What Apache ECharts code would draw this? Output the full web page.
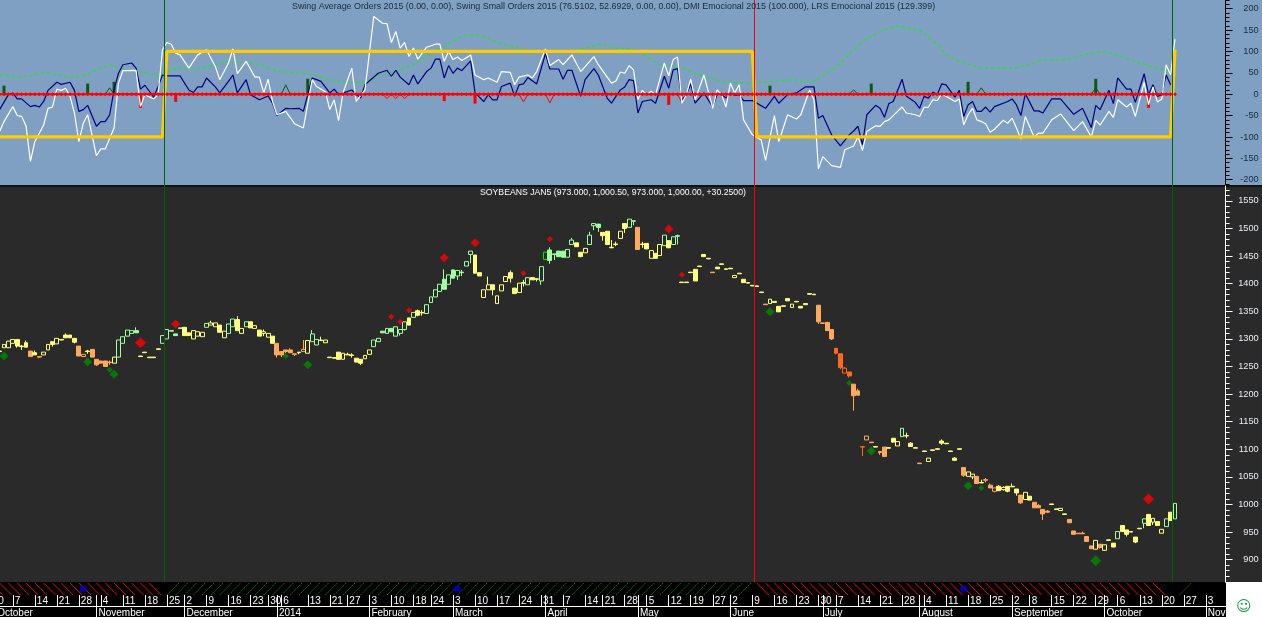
<!DOCTYPE html>
<html><head><meta charset="utf-8"><style>html,body{margin:0;padding:0;background:#fff}#c{width:1262px;height:617px}</style>
<script src="https://cdn.jsdelivr.net/npm/echarts@6/dist/echarts.min.js"></script></head><body><div id="c"></div>
<script>
const indicatorTitle = "Swing Average Orders 2015 (0.00, 0.00), Swing Small Orders 2015 (76.5102, 52.6929, 0.00, 0.00), DMI Emocional 2015 (100.000), LRS Emocional 2015 (129.399)";
const priceTitle = "SOYBEANS JAN5 (973.000, 1,000.50, 973.000, 1,000.00, +30.2500)";
// bars: [bodyBottom, bodyTop, low, high, kind]  y/g/o/r filled yellow/green/orange/dark; upper-case hollow; b bright green hollow
const bars = [
[1277,1278,1277,1278,'y'],[1284,1290,1284,1290,'Y'],[1284,1296,1284,1296,'Y'],[1292,1299,1292,1299,'Y'],[1287,1299,1284,1299,'y'],[1286,1287,1280,1289,'y'],[1285,1293,1285,1297,'y'],[1268,1278,1268,1278,'o'],[1271,1275,1271,1279,'y'],[1267,1268,1265,1268,'o'],
[1271,1276,1271,1276,'Y'],[1280,1290,1280,1290,'Y'],[1290,1295,1286,1295,'y'],[1291,1301,1291,1301,'Y'],[1298,1299,1298,1299,'y'],[1302,1307,1302,1310,'y'],[1302,1307,1302,1307,'y'],[1294,1301,1292,1301,'y'],[1269,1287,1269,1287,'o'],[1268,1272,1268,1272,'O'],
[1277,1278,1273,1280,'y'],[1267,1281,1267,1281,'o'],[1253,1263,1251,1263,'o'],[1256,1260,1256,1260,'o'],[1250,1260,1250,1260,'o'],[1257,1258,1253,1261,'o'],[1256,1267,1256,1267,'Y'],[1267,1298,1267,1298,'G'],[1292,1304,1292,1304,'G'],[1305,1316,1305,1316,'G'],
[1310,1315,1310,1315,'G'],[1311,1315,1311,1321,'g'],[1268,1269,1268,1269,'y'],[1275,1276,1275,1276,'y'],[1266,1267,1266,1267,'y'],[1266,1267,1266,1267,'y'],[1281,1282,1281,1282,'y'],[1292,1306,1292,1306,'G'],[1300,1317,1300,1317,'G'],[1314,1315,1314,1315,'g'],
[1306,1309,1306,1309,'g'],[1319,1320,1319,1320,'g'],[1306,1321,1306,1321,'y'],[1306,1311,1306,1311,'y'],[1300,1315,1300,1315,'Y'],[1305,1313,1305,1313,'Y'],[1304,1312,1304,1312,'Y'],[1321,1328,1321,1328,'G'],[1325,1329,1325,1333,'Y'],[1322,1329,1322,1329,'Y'],
[1312,1325,1312,1325,'y'],[1302,1314,1302,1314,'Y'],[1310,1327,1310,1327,'G'],[1322,1336,1322,1336,'G'],[1315,1335,1315,1341,'y'],[1310,1319,1310,1319,'Y'],[1322,1331,1322,1331,'G'],[1320,1331,1320,1331,'y'],[1319,1324,1319,1324,'Y'],[1305,1316,1305,1316,'y'],
[1310,1313,1305,1317,'Y'],[1303,1310,1303,1310,'Y'],[1292,1305,1292,1305,'y'],[1271,1292,1266,1292,'o'],[1271,1277,1267,1277,'o'],[1277,1280,1274,1280,'o'],[1275,1280,1275,1283,'o'],[1272,1273,1269,1273,'o'],[1275,1276,1272,1276,'y'],[1277,1281,1277,1298,'O'],
[1274,1297,1274,1297,'Y'],[1295,1309,1295,1316,'G'],[1289,1299,1289,1299,'G'],[1297,1298,1297,1304,'y'],[1293,1298,1293,1298,'Y'],[1266,1267,1266,1267,'y'],[1265,1266,1265,1266,'y'],[1263,1276,1263,1276,'y'],[1263,1274,1263,1274,'Y'],[1271,1272,1271,1275,'y'],
[1270,1271,1266,1274,'y'],[1258,1265,1258,1265,'y'],[1256,1263,1253,1263,'y'],[1264,1270,1264,1270,'Y'],[1272,1280,1272,1280,'Y'],[1286,1298,1286,1298,'G'],[1295,1301,1295,1301,'G'],[1311,1314,1311,1314,'g'],[1310,1319,1310,1319,'G'],[1313,1319,1313,1319,'g'],
[1305,1322,1305,1322,'G'],[1310,1317,1306,1317,'G'],[1317,1331,1315,1331,'G'],[1325,1338,1325,1338,'y'],[1339,1348,1339,1348,'G'],[1343,1351,1341,1353,'y'],[1347,1348,1342,1352,'y'],[1346,1362,1346,1362,'G'],[1366,1376,1366,1376,'G'],[1376,1389,1376,1389,'G'],
[1386,1399,1386,1399,'G'],[1390,1408,1389,1426,'g'],[1399,1416,1399,1416,'G'],[1410,1425,1410,1425,'g'],[1414,1424,1407,1424,'G'],[1420,1421,1414,1425,'g'],[1432,1440,1432,1440,'G'],[1453,1459,1437,1459,'G'],[1419,1452,1419,1452,'y'],[1414,1420,1414,1420,'y'],
[1375,1389,1375,1389,'Y'],[1389,1398,1389,1413,'Y'],[1389,1398,1379,1398,'y'],[1364,1378,1364,1378,'Y'],[1387,1398,1387,1398,'Y'],[1404,1413,1404,1413,'Y'],[1410,1420,1402,1424,'y'],[1382,1392,1382,1392,'y'],[1384,1401,1384,1401,'Y'],[1401,1402,1395,1407,'y'],
[1398,1411,1398,1411,'G'],[1407,1411,1407,1411,'y'],[1408,1409,1404,1409,'y'],[1405,1431,1398,1431,'G'],[1444,1457,1444,1457,'b'],[1442,1461,1436,1466,'g'],[1453,1454,1443,1454,'g'],[1449,1459,1449,1459,'g'],[1448,1459,1448,1459,'g'],[1448,1462,1448,1462,'G'],
[1471,1479,1471,1483,'G'],[1467,1474,1467,1474,'y'],[1449,1457,1449,1457,'y'],[1456,1464,1456,1464,'Y'],[1471,1488,1471,1494,'G'],[1505,1509,1497,1509,'G'],[1502,1508,1494,1508,'g'],[1487,1493,1478,1493,'y'],[1471,1495,1471,1495,'y'],[1465,1466,1465,1479,'y'],
[1471,1472,1468,1476,'y'],[1482,1495,1482,1495,'Y'],[1500,1509,1492,1509,'y'],[1502,1517,1502,1517,'G'],[1513,1514,1506,1514,'G'],[1462,1502,1462,1502,'o'],[1471,1472,1465,1476,'y'],[1463,1473,1463,1473,'y'],[1446,1460,1446,1460,'Y'],[1446,1455,1446,1455,'y'],
[1451,1471,1451,1471,'Y'],[1469,1488,1469,1488,'G'],[1465,1478,1465,1478,'y'],[1471,1485,1471,1485,'G'],[1486,1487,1471,1489,'g'],[1402,1403,1402,1403,'y'],[1402,1403,1402,1403,'y'],[1420,1421,1420,1421,'y'],[1405,1426,1405,1426,'y'],[1431,1432,1431,1432,'y'],
[1449,1453,1449,1453,'y'],[1445,1446,1445,1446,'y'],[1420,1421,1420,1421,'o'],[1427,1430,1427,1430,'y'],[1435,1436,1435,1436,'y'],[1426,1427,1426,1427,'y'],[1427,1428,1427,1428,'y'],[1411,1415,1411,1415,'Y'],[1418,1419,1418,1419,'y'],[1402,1408,1402,1408,'y'],
[1401,1402,1401,1402,'y'],[1396,1397,1396,1397,'y'],[1395,1396,1395,1396,'y'],[1384,1385,1384,1385,'y'],[1362,1363,1362,1363,'o'],[1364,1372,1364,1372,'Y'],[1366,1368,1366,1368,'y'],[1349,1359,1349,1359,'y'],[1359,1360,1359,1360,'y'],[1369,1373,1369,1373,'y'],
[1357,1363,1357,1363,'Y'],[1367,1368,1367,1368,'y'],[1356,1359,1356,1359,'y'],[1362,1364,1362,1364,'y'],[1381,1382,1381,1382,'y'],[1380,1381,1380,1381,'y'],[1331,1361,1327,1361,'o'],[1328,1329,1328,1329,'o'],[1315,1330,1315,1330,'o'],[1300,1317,1298,1317,'o'],
[1274,1283,1272,1283,'r'],[1248,1273,1245,1273,'r'],[1238,1247,1238,1249,'R'],[1233,1240,1230,1240,'r'],[1197,1218,1170,1218,'o'],[1198,1206,1198,1210,'o'],[1104,1105,1088,1105,'r'],[1117,1124,1117,1124,'O'],[1112,1113,1112,1113,'o'],[1104,1105,1104,1105,'y'],
[1094,1096,1090,1096,'o'],[1087,1104,1087,1104,'o'],[1102,1103,1102,1103,'y'],[1113,1120,1112,1120,'y'],[1106,1114,1106,1114,'Y'],[1123,1138,1123,1138,'G'],[1124,1125,1120,1130,'y'],[1105,1111,1105,1113,'y'],[1102,1103,1102,1103,'y'],[1074,1075,1074,1075,'o'],
[1096,1097,1096,1097,'y'],[1078,1084,1078,1084,'Y'],[1098,1099,1098,1099,'y'],[1100,1101,1100,1101,'y'],[1111,1115,1108,1118,'y'],[1110,1111,1110,1111,'y'],[1096,1097,1096,1097,'y'],[1080,1084,1080,1086,'y'],[1100,1101,1100,1101,'y'],[1053,1067,1050,1067,'o'],
[1051,1059,1051,1059,'Y'],[1050,1055,1046,1055,'Y'],[1038,1051,1038,1051,'o'],[1039,1040,1039,1045,'y'],[1044,1045,1040,1048,'o'],[1030,1035,1030,1038,'o'],[1024,1030,1022,1030,'O'],[1025,1033,1025,1035,'y'],[1027,1031,1025,1033,'Y'],[1024,1033,1022,1033,'y'],
[1032,1033,1032,1038,'y'],[1021,1028,1016,1028,'y'],[1003,1017,1001,1017,'o'],[1009,1022,1009,1022,'Y'],[1008,1015,1008,1015,'y'],[994,1004,994,1004,'o'],[994,998,994,1001,'o'],[983,991,972,991,'o'],[986,988,985,990,'o'],[1000,1001,1000,1001,'y'],
[991,992,991,992,'y'],[989,993,989,993,'Y'],[982,983,982,983,'y'],[967,973,967,973,'o'],[946,952,946,952,'o'],[947,948,947,948,'o'],[947,948,947,951,'o'],[933,942,933,942,'o'],[920,925,920,925,'o'],[919,935,919,935,'Y'],
[922,928,920,928,'o'],[917,927,916,927,'Y'],[935,936,935,936,'y'],[923,930,923,930,'y'],[938,951,938,951,'G'],[951,962,951,962,'y'],[946,954,942,954,'y'],[950,951,950,951,'y'],[932,941,930,941,'y'],[956,957,956,957,'y'],
[966,974,957,974,'G'],[962,982,962,982,'y'],[968,975,963,975,'Y'],[962,969,962,969,'y'],[948,955,948,955,'Y'],[960,974,960,974,'G'],[971,986,971,986,'y'],[974,1002,974,1002,'G']
];
const redBig=[[32,1293],[261,1010]], redMid=[[40,1327],[101,1447],[108,1474],[152,1499]], redSmall=[[89,1340],[91,1331],[93,1352],[119,1419],[125,1481],[155,1416]];
const greenBig=[[249,898]], greenMid=[[1,1269],[20,1258],[26,1236],[70,1253],[175,1349],[198,1097],[220,1034]], greenSmall=[[25,1244],[65,1269],[193,1220],[223,1030]];
const blueLine=[[0,-36],[2,-1],[3,3],[4,-11],[5,-11],[7,-29],[8,-26],[9,-30],[10,-17],[11,9],[13,28],[14,23],[16,28],[17,9],[18,-40],[19,-36],[20,-26],[22,-75],[23,-64],[24,-64],[25,-48],[26,10],[27,49],[28,69],[30,73],[31,61],[32,12],[33,21],[35,-7],[36,18],[37,45],[38,43],[41,43],[43,10],[44,4],[45,17],[46,17],[47,38],[49,17],[50,3],[52,30],[53,45],[54,3],[56,34],[57,-1],[59,-13],[61,-4],[62,-21],[63,-50],[65,-33],[66,-34],[68,-33],[69,-40],[71,38],[72,34],[73,30],[75,3],[76,12],[77,-1],[80,10],[82,-9],[83,22],[86,49],[88,56],[89,42],[90,56],[91,40],[93,22],[94,45],[95,24],
[97,53],[98,61],[99,82],[100,82],[101,38],[102,67],[103,49],[104,61],[105,55],[107,78],[108,3],[110,-17],[111,-1],[112,-13],[113,-13],[114,18],[116,26],[117,-5],[118,22],[119,24],[120,39],[122,24],[124,95],[125,59],[127,59],[128,35],[129,56],[130,56],[132,-5],[133,34],[135,60],[136,45],[138,-9],[139,-21],[141,10],[142,17],[143,34],[144,32],[145,-44],[146,-17],[148,-13],[149,-21],[151,42],[152,14],[153,57],[154,60],[155,-13],[156,-1],[157,24],[158,-21],[160,3],[162,-30],[163,0],[164,-1],[165,-9],[166,3],[167,-3],[168,-1],[169,-15],[171,-15],[174,-33],[176,-5],[177,-21],[179,-1],[181,3],[183,17],[185,17],[186,-56],[187,-50],[189,-95],[191,-121],
[193,-95],[194,-86],[195,-75],[196,-118],[197,-48],[199,-26],[200,-33],[201,-54],[202,-22],[203,-17],[205,35],[206,-5],[208,-19],[209,-33],[210,-5],[211,-9],[212,5],[213,-1],[214,24],[215,22],[217,-7],[218,9],[219,-52],[220,-25],[221,-17],[222,-40],[223,-40],[224,-30],[225,-42],[226,-29],[229,-17],[230,-11],[231,-25],[232,-50],[233,1],[235,-39],[236,-39],[237,-44],[239,-11],[241,-11],[244,-47],[246,-33],[248,-78],[249,-26],[250,-36],[252,9],[253,-22],[254,38],[256,12],[257,12],[258,-19],[260,48],[261,-1],[262,22],[263,-5],[264,-1],[265,45],[266,22]];
const whiteLine=[[0,-87],[1,-64],[3,-29],[4,-50],[5,-52],[6,-74],[7,-157],[8,-111],[10,-72],[11,-33],[12,-30],[13,12],[14,9],[15,14],[16,-5],[17,-44],[18,-111],[19,-68],[20,-48],[22,-144],[23,-128],[24,-128],[26,-79],[27,26],[28,55],[31,56],[32,-29],[33,-1],[35,-11],[36,-1],[37,104],[38,121],[39,117],[40,96],[41,92],[43,61],[44,77],[45,92],[47,104],[49,65],[50,34],[52,73],[53,106],[54,48],[56,77],[58,40],[59,40],[60,3],[61,35],[62,-17],[63,-48],[65,-40],[67,-69],[69,-79],[71,34],[72,18],[74,6],[75,-36],[76,-13],[77,-62],[78,3],[80,61],[81,-17],[83,10],[85,182],[87,166],[88,165],[89,121],[90,147],[91,108],[92,121],[93,88],[94,108],[95,82],
[97,110],[99,117],[100,117],[101,77],[102,100],[103,81],[104,87],[105,79],[107,92],[108,45],[110,34],[111,38],[113,28],[114,53],[116,51],[117,22],[118,40],[120,45],[121,38],[122,53],[124,106],[125,67],[127,81],[128,69],[130,92],[132,53],[135,88],[136,69],[139,26],[140,31],[141,52],[142,49],[143,67],[144,57],[145,-13],[146,9],[147,-1],[148,7],[149,-1],[151,73],[152,43],[153,81],[154,87],[155,-21],[156,-1],[157,36],[158,-13],[160,45],[162,-33],[163,10],[164,-1],[165,-30],[166,26],[167,3],[168,22],[169,-60],[171,-95],[173,-107],[174,-155],[176,-50],[177,-111],[179,-48],[181,-58],[182,-48],[184,10],[185,-13],[186,-175],[187,-146],[189,-167],[191,-171],
[192,-130],[194,-121],[195,-99],[196,-132],[197,-87],[199,-74],[200,-75],[201,-64],[202,-60],[203,-50],[205,-30],[206,-44],[208,-48],[209,-52],[210,-31],[211,-30],[212,-13],[213,-15],[214,1],[215,-5],[217,-17],[218,-11],[219,-72],[220,-48],[221,-33],[222,-60],[223,-64],[224,-69],[225,-89],[226,-82],[228,-61],[229,-68],[230,-56],[231,-79],[232,-105],[233,-52],[235,-100],[236,-91],[237,-91],[239,-60],[241,-46],[244,-85],[246,-64],[248,-100],[249,-61],[250,-72],[252,-40],[253,-54],[254,-13],[256,-30],[257,-21],[258,-52],[260,28],[261,-25],[262,17],[263,-18],[264,-11],[265,69],[266,45],[267,129]];
const greenLine=[[0,46],[4,40],[7,43],[10,52],[13,46],[16,38],[20,46],[22,57],[25,69],[29,57],[32,53],[36,43],[38,53],[41,61],[45,60],[49,69],[52,77],[57,74],[60,67],[63,53],[67,51],[71,46],[75,34],[79,28],[83,28],[87,46],[92,61],[95,74],[98,96],[101,112],[105,135],[108,141],[111,131],[114,118],[118,108],[121,96],[124,100],[129,98],[133,108],[137,118],[140,108],[144,106],[147,88],[150,69],[155,61],[159,46],[164,30],[170,26],[176,30],[180,34],[185,30],[188,49],[191,73],[194,104],[197,131],[201,151],[204,160],[209,149],[212,127],[215,92],[218,77],[223,61],[230,61],[234,69],[237,81],[242,81],[246,92],[251,100],[255,88],[259,73],[263,61],[266,53]];
const yellowLine=[[0,-100],[37,-100],[38,100],[171,100],[172,-100],[266,-100],[267,104]];
const histGreen=[[1,20],[20,25],[26,29],[70,36],[175,20],[198,25],[220,29],[249,36]];
const histRed=[[32,-32],[40,-18],[101,-16],[108,-22],[152,-25],[261,-32]];
const thinGreen=[[25,15],[65,22],[194,10],[223,15],[249,15]];
const thinRed=[[88,-10],[90,-10],[92,-10],[119,-18],[125,-20],[155,-20]];
const signalBars=[[37.35,'buy'],[171.4,'sell'],[266.3,'buy']];
const hatchZones=[[-2,37.35,'sell'],[37.35,171.4,'buy'],[171.4,266.3,'sell'],[266.3,270,'buy']];
const newsBars=[19,104,219];
const weekTicks=[[-2,'30'],[3,'7'],[8,'14'],[13,'21'],[18,'28'],[22,''],[23,'4'],[28,'11'],[33,'18'],[38,'25'],[42,'2'],[47,'9'],[52,'16'],[57,'23'],[61,'30'],[63,''],[64,'6'],[70,'13'],[75,'21'],[79,'27'],[84,'3'],[89,'10'],[94,'18'],[98,'24'],[103,'3'],[108,'10'],[113,'17'],[118,'24'],[123,'31'],[124,''],[128,'7'],[133,'14'],[137,'21'],[142,'28'],[145,''],[147,'5'],[152,'12'],[157,'19'],[162,'27'],[166,'2'],[171,'9'],[176,'16'],[181,'23'],[186,'30'],[187,''],[190,'7'],[195,'14'],[200,'21'],[205,'28'],[209,''],[210,'4'],[215,'11'],[220,'18'],[225,'25'],[230,'2'],[234,'8'],[239,'15'],[244,'22'],[249,'29'],[251,''],[254,'6'],[259,'13'],[264,'20'],[269,'27'],[274,'3']];
const monthTicks=[[-1,'October'],[22,'November'],[42,'December'],[63,'2014'],[84,'February'],[103,'March'],[124,'April'],[145,'May'],[166,'June'],[187,'July'],[209,'August'],[230,'September'],[251,'October'],[274,'Nove']];
const indicatorLabels=[-200,-150,-100,-50,0,50,100,150,200];
const priceLabels=[900,950,1000,1050,1100,1150,1200,1250,1300,1350,1400,1450,1500,1550];
const indicatorMinor=[];for(let v=-210;v<=220;v+=10)indicatorMinor.push(v);
const priceMinor=[];for(let v=860;v<=1570;v+=10)priceMinor.push(v);

const LEAD=2, SLOTS=281, FONT='"Liberation Sans",Arial,sans-serif', GRIDW=1237;
const slots=Array.from({length:SLOTS},(_,i)=>String(i-LEAD));
const kindColor={y:'#ffff80',g:'#a0ffa0',o:'#ffa95c',r:'#ff6a1a',b:'#00ee00'};
const candle=[['-','-','-','-'],['-','-','-','-']].concat(bars.map(b=>{const c=kindColor[b[4].toLowerCase()];const hollow=b[4]!==b[4].toLowerCase()||b[4]==='b';const fill=hollow?'#2a2a2a':c;
  return {value:[b[0],b[1],b[2],b[3]],itemStyle:{color:fill,color0:fill,borderColor:c,borderColor0:c,borderColorDoji:c,borderWidth:1}};}));
const tri=a=>a.flatMap(([k,v])=>[[k-1,0],[k,v],[k+1,0]]);
const zero=bars.map((b,k)=>[k,0]);
const hatch=[];for(let k=-2;k<=270;k+=2){const z=hatchZones.find(z=>k>=z[0]&&k<z[1]);if(z&&k+2.7<=z[1]+(z[2]==='buy'&&z[0]>200?3:0))hatch.push([k,z[2]==='sell'?1:0]);}
const weekMap=new Map(weekTicks.map(([k,t])=>[k+LEAD,t])), monthMap=new Map(monthTicks.map(([k,t])=>[k+LEAD,t]));
const xVal=(i,g)=>({type:'value',gridIndex:g,min:-LEAD-0.5,max:SLOTS-LEAD-0.5,show:false});
const yHide=(g)=>({type:'value',gridIndex:g,min:0,max:1,show:false});
const yMajor=(g,min,max,vals,col,txt)=>({type:'value',gridIndex:g,position:'right',min,max,splitLine:{show:false},
  axisLine:{show:true,onZero:false,lineStyle:{color:col}},axisTick:{show:true,length:7,customValues:vals,lineStyle:{color:col}},
  axisLabel:{customValues:vals,formatter:v=>String(v),color:txt,fontSize:9.2,fontFamily:FONT,align:'right',margin:33,padding:[2,0,0,0],showMinLabel:true,showMaxLabel:true}});
const yMinor=(g,min,max,vals,col)=>({type:'value',gridIndex:g,position:'left',offset:-GRIDW,min,max,splitLine:{show:false},
  axisLine:{show:false},axisTick:{show:true,inside:true,length:4,customValues:vals,lineStyle:{color:col}},axisLabel:{show:false}});
const vlines=(xi,yi)=>({type:'line',xAxisIndex:xi,yAxisIndex:yi,data:[],silent:true,markLine:{symbol:'none',silent:true,animation:false,label:{show:false},
  data:signalBars.map(([x,s])=>({xAxis:x,lineStyle:{color:s==='buy'?'#006400':'#ff0000',width:1,type:'solid'}}))}});
const line=(data,color,width,extra)=>Object.assign({type:'line',xAxisIndex:0,yAxisIndex:0,data,showSymbol:false,symbol:'none',silent:true,lineStyle:{color,width}},extra||{});
const diamonds=(data,color,size)=>({type:'scatter',xAxisIndex:2,yAxisIndex:2,data,symbol:'diamond',symbolSize:size,itemStyle:{color},silent:true,z:4});
const hist=(data,color)=>({type:'custom',xAxisIndex:0,yAxisIndex:0,data,silent:true,z:1,renderItem(p,api){const a=api.coord([api.value(0),0]),b=api.coord([api.value(0),api.value(1)]);
  return {type:'rect',shape:{x:a[0]-1.5,y:Math.min(a[1],b[1]),width:3,height:Math.abs(a[1]-b[1])},style:{fill:color}};}});

const option={animation:false,backgroundColor:'#fff',
 title:[{text:indicatorTitle,left:292,top:2,padding:0,textStyle:{color:'#1b2a3c',fontSize:8.9,fontWeight:'normal',fontFamily:FONT}},
        {text:priceTitle,left:480,top:188,padding:0,textStyle:{color:'#ffffff',fontSize:8.7,fontWeight:'normal',fontFamily:FONT}}],
 graphic:{elements:[
  {type:'rect',silent:true,z:-5,shape:{x:0,y:0,width:1262,height:186},style:{fill:'#7f9fc3'}},
  {type:'rect',silent:true,z:-5,shape:{x:0,y:186,width:1262,height:396},style:{fill:'#2a2a2a'}},
  {type:'rect',silent:true,z:-5,shape:{x:0,y:185,width:1262,height:2},style:{fill:'#111'}},
  {type:'rect',silent:true,z:-5,shape:{x:0,y:582,width:1226,height:35},style:{fill:'#000'}},
  {type:'text',silent:true,z:5,x:1236,y:600,style:{text:'\u263A',fill:'#1a9a4a',font:'15px "DejaVu Sans"'}}
 ]},
 grid:[{left:-11.4,top:0,width:GRIDW,height:186,outerBoundsMode:'none'},{left:-11.4,top:186,width:GRIDW,height:396,outerBoundsMode:'none'},{left:-11.4,top:583,width:GRIDW,height:12,outerBoundsMode:'none'},{left:-11.4,top:606,width:GRIDW,height:1,outerBoundsMode:'none'}],
 xAxis:[xVal(0,0),
  {type:'category',gridIndex:1,data:slots,show:false,boundaryGap:true},xVal(2,1),
  xVal(3,2),
  {type:'category',gridIndex:3,data:slots,position:'top',axisLine:{show:true,onZero:false,lineStyle:{color:'#fff'}},
    axisTick:{show:true,alignWithLabel:true,length:11,interval:i=>weekMap.has(i),lineStyle:{color:'#fff'}},
    axisLabel:{interval:i=>weekMap.has(i),formatter:(v,i)=>weekMap.get(i)||'',color:'#fff',fontSize:10,fontFamily:FONT,align:'left',margin:0,padding:[0,0,0,2]}},
  {type:'category',gridIndex:3,data:slots,position:'bottom',axisLine:{show:false,onZero:false},
    axisTick:{show:true,alignWithLabel:true,length:11,interval:i=>monthMap.has(i),lineStyle:{color:'#fff'}},
    axisLabel:{interval:i=>monthMap.has(i),formatter:(v,i)=>monthMap.get(i)||'',color:'#fff',fontSize:10,fontFamily:FONT,align:'left',margin:1,padding:[0,0,0,2]}}
 ],
 yAxis:[yMajor(0,-214.7,220.4,indicatorLabels,'#000','#1b2a3c'),yMinor(0,-214.7,220.4,indicatorMinor,'#000'),
  yMajor(1,859.6,1577,priceLabels,'#fff','#e8eef5'),yMinor(1,859.6,1577,priceMinor,'#fff'),
  yHide(2),yHide(3)],
 series:[
  vlines(0,0),
  hist(histGreen,'#0a5a12'),hist(histRed,'#ff0000'),
  line(tri(thinGreen),'#0a5a12',1),line(tri(thinRed),'#ff0000',1),
  line(greenLine,'#14f014',1.2,{lineStyle:{color:'#14f014',width:1.2,type:[3,3]}}),
  line(blueLine,'#000080',1.2),
  line(whiteLine,'#ffffff',1.2),
  line(zero,'#ff0000',2,{symbol:'diamond',symbolSize:4,showSymbol:true,itemStyle:{color:'#ff0000'}}),
  line(yellowLine,'#ffcc00',3.2,{z:3}),
  {type:'candlestick',xAxisIndex:1,yAxisIndex:2,data:candle,barWidth:4.4,silent:true},
  diamonds(redBig,'#ff0000',11),diamonds(redMid,'#ff0000',9),diamonds(redSmall,'#ff0000',6),
  diamonds(greenBig,'#008a00',11),diamonds(greenMid,'#008a00',9),diamonds(greenSmall,'#008a00',6),
  vlines(2,2),
  {type:'custom',xAxisIndex:3,yAxisIndex:4,data:hatch,silent:true,clip:true,
   renderItem(p,api){const k=api.value(0),sell=api.value(1)===1;const top=api.coord([k,1]),bot=api.coord([k,0]);
     return sell?{type:'line',shape:{x1:top[0],y1:top[1],x2:top[0]+12,y2:bot[1]},style:{stroke:'#ff0000',lineWidth:1}}
                :{type:'line',shape:{x1:bot[0],y1:bot[1],x2:bot[0]+12,y2:top[1]},style:{stroke:'#0c7a14',lineWidth:1,lineDash:[2,1]}};}},
  {type:'scatter',xAxisIndex:3,yAxisIndex:4,data:newsBars.map(k=>[k,0.5]),symbol:'circle',symbolSize:7,itemStyle:{color:'#0000cc'},silent:true,z:5}
 ]};
echarts.init(document.getElementById('c'),null,{renderer:'canvas'}).setOption(option);
</script></body></html>
